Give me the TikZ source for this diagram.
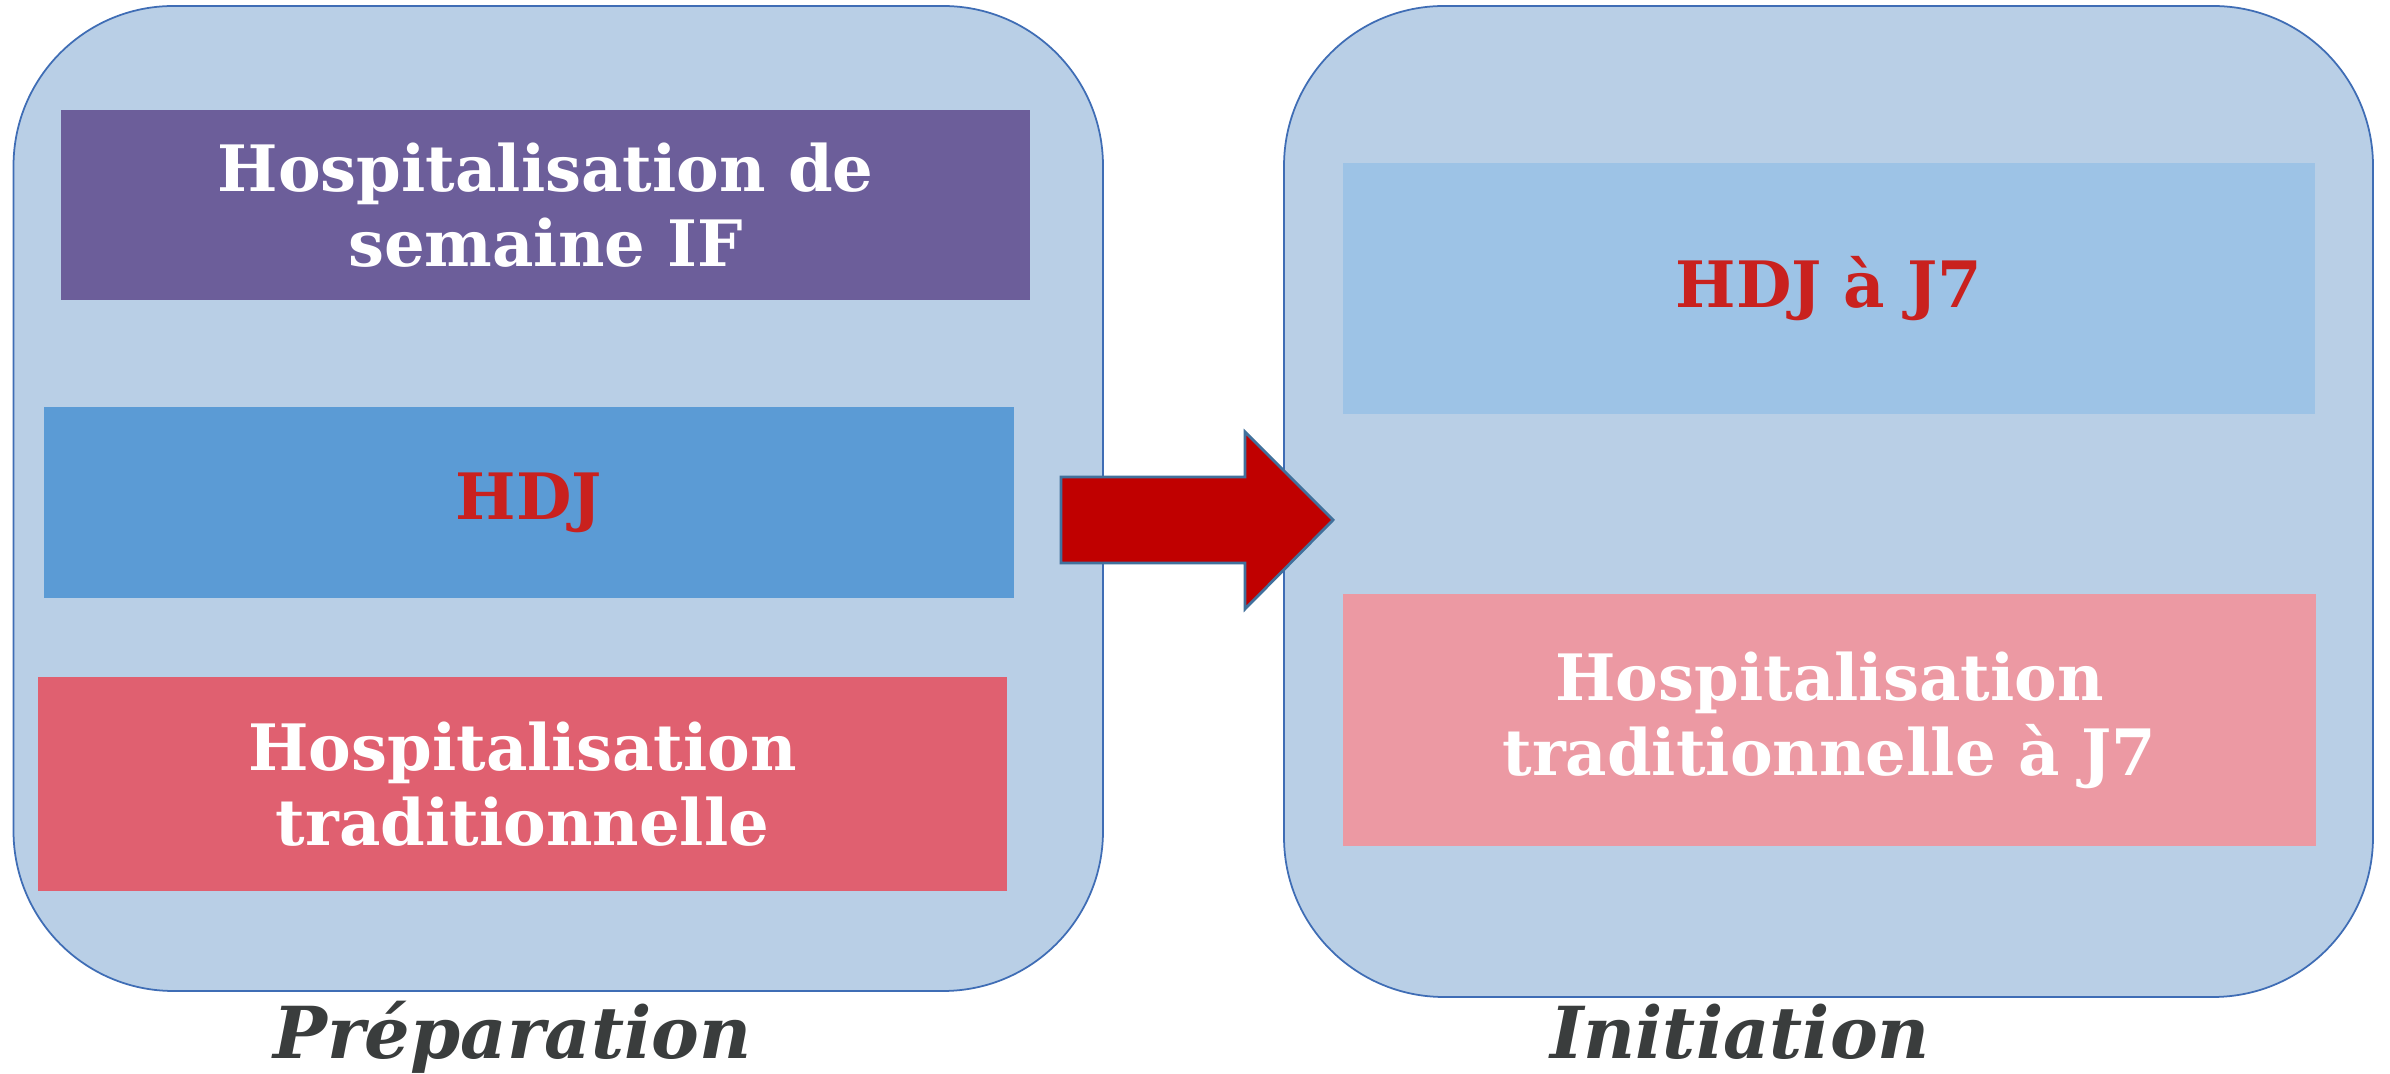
\documentclass[tikz,border=0pt]{standalone}
\usepackage{fontspec}
\setmainfont{DejaVu Serif}
\definecolor{panelfill}{HTML}{B9CFE6}
\definecolor{panelline}{HTML}{3F6DB5}
\definecolor{purplebox}{HTML}{6C5E9A}
\definecolor{hdjbox}{HTML}{5B9BD5}
\definecolor{redbox}{HTML}{E06070}
\definecolor{lightbox}{HTML}{9DC3E6}
\definecolor{pinkbox}{HTML}{EC99A3}
\definecolor{redtext}{HTML}{C9211E}
\definecolor{arrowfill}{HTML}{C00000}
\definecolor{arrowline}{HTML}{41719C}
\definecolor{labeltext}{HTML}{3A3D3D}
\begin{document}
\begin{tikzpicture}[x=1cm,y=1cm,
  panel/.style={rectangle, draw=panelline, line width=0.5pt, fill=panelfill, rounded corners=1.6cm, inner sep=0pt},
  colbox/.style={rectangle, inner sep=0pt, align=center, font=\fontsize{18.2}{21.3}\selectfont\bfseries},
  steplabel/.style={font=\fontsize{20.4}{24}\selectfont\bfseries\itshape, text=labeltext, anchor=base, inner sep=0pt}]
\useasboundingbox (0,0) rectangle (23.9,10.74);
\fill[white] (0,0) rectangle (23.9,10.74);

\node[panel, minimum width=10.895cm, minimum height=9.85cm] (prep) at (5.5825,5.755) {};
\node[panel, minimum width=10.89cm, minimum height=9.91cm] (init) at (18.285,5.725) {};

\node[colbox, fill=purplebox, text=white, minimum width=9.69cm, minimum height=1.90cm] (hsem) at (5.455,8.69) {Hospitalisation de\\semaine IF};
\node[colbox, fill=hdjbox, text=redtext, minimum width=9.70cm, minimum height=1.91cm] (hdj) at (5.29,5.715) {HDJ};
\node[colbox, fill=redbox, text=white, minimum width=9.69cm, minimum height=2.14cm] (htrad) at (5.225,2.90) {Hospitalisation\\traditionnelle};
\node[colbox, fill=lightbox, text=redtext, minimum width=9.72cm, minimum height=2.51cm] (hdjj) at (18.29,7.855) {HDJ à J7};
\node[colbox, fill=pinkbox, text=white, minimum width=9.73cm, minimum height=2.52cm] (htradj) at (18.295,3.54) {Hospitalisation\\traditionnelle à J7};

\draw[fill=arrowfill, draw=arrowline, line width=0.8pt, line join=miter]
  (10.61,5.97) -- (12.45,5.97) -- (12.45,6.42) -- (13.33,5.54) -- (12.45,4.65) -- (12.45,5.11) -- (10.61,5.11) -- cycle;

\node[steplabel] (lprep) at (5.125,0.15) {Préparation};
\node[steplabel] (linit) at (17.40,0.15) {Initiation};
\end{tikzpicture}
\end{document}
